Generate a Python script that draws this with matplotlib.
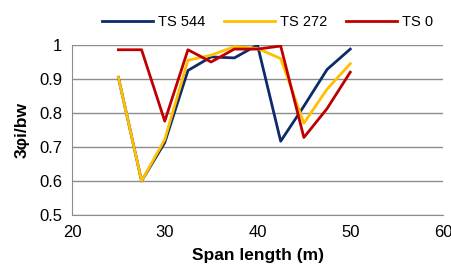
import matplotlib.pyplot as plt

plt.rcParams['font.family'] = ['Liberation Sans', 'DejaVu Sans']

span = [25, 27.5, 30, 32.5, 35, 37.5, 40, 42.5, 45, 47.5, 50]
ts544 = [0.905, 0.60, 0.713, 0.925, 0.965, 0.962, 1.0, 0.717, 0.82, 0.928, 0.988]
ts272 = [0.905, 0.60, 0.722, 0.955, 0.97, 0.995, 0.99, 0.96, 0.77, 0.87, 0.945]
ts0 = [0.986, 0.986, 0.776, 0.986, 0.95, 0.988, 0.988, 0.997, 0.728, 0.813, 0.92]

fig = plt.figure(figsize=(4.51, 2.73), dpi=100)
ax = fig.add_axes([72/451, 1-215/273, (443-72)/451, (215-45)/273])

ax.plot(span, ts544, color='#0d2a6b', linewidth=2, label='TS 544')
ax.plot(span, ts272, color='#ffc000', linewidth=2, label='TS 272')
ax.plot(span, ts0, color='#c00000', linewidth=2, label='TS 0')

ax.set_xlim(20, 60)
ax.set_ylim(0.5, 1)
ax.set_xticks([20, 30, 40, 50, 60])
ax.set_yticks([0.5, 0.6, 0.7, 0.8, 0.9, 1])
ax.set_yticklabels(['0.5', '0.6', '0.7', '0.8', '0.9', '1'])
ax.tick_params(length=0, labelsize=12, pad=7)
ax.yaxis.grid(True, color='#8c8c8c', linewidth=1)
ax.set_axisbelow(True)
for s in ['top', 'right']:
    ax.spines[s].set_visible(False)
for s in ['left', 'bottom']:
    ax.spines[s].set_color('#8c8c8c')

ax.set_xlabel('Span length (m)', fontsize=12.5, fontweight='bold', labelpad=6)
ax.set_ylabel('3φi/bw', fontsize=12.5, fontweight='bold', labelpad=7)

ax.legend(loc='lower center', bbox_to_anchor=(0.527, 1.06), ncol=3, frameon=False,
          fontsize=10.5, handlelength=3.5, handletextpad=0.35, columnspacing=1.25,
          borderaxespad=0)

fig.savefig('out.png', dpi=100)
